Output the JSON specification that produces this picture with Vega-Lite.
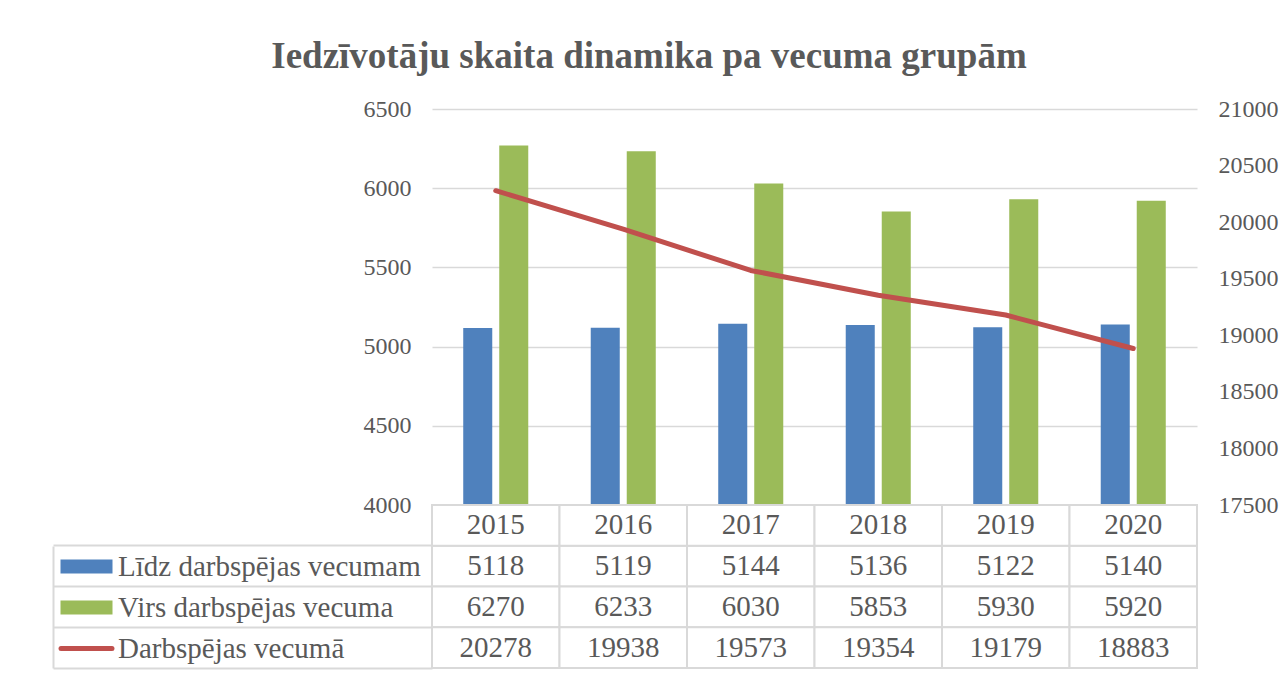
{
  "$schema": "https://vega.github.io/schema/vega-lite/v6.json",
  "background": "white",
  "padding": {"left": 52, "top": 38, "right": 5, "bottom": 5},
  "title": {
    "text": "Iedzīvotāju skaita dinamika pa vecuma grupām",
    "font": "Liberation Serif",
    "fontSize": 37,
    "fontWeight": "bold",
    "color": "#595959",
    "anchor": "middle",
    "offset": 21,
    "dx": -16
  },
  "data": {
    "values": [
      {"year": "2015", "series": "Līdz darbspējas vecumam", "value": 5118},
      {"year": "2016", "series": "Līdz darbspējas vecumam", "value": 5119},
      {"year": "2017", "series": "Līdz darbspējas vecumam", "value": 5144},
      {"year": "2018", "series": "Līdz darbspējas vecumam", "value": 5136},
      {"year": "2019", "series": "Līdz darbspējas vecumam", "value": 5122},
      {"year": "2020", "series": "Līdz darbspējas vecumam", "value": 5140},
      {"year": "2015", "series": "Virs darbspējas vecuma", "value": 6270},
      {"year": "2016", "series": "Virs darbspējas vecuma", "value": 6233},
      {"year": "2017", "series": "Virs darbspējas vecuma", "value": 6030},
      {"year": "2018", "series": "Virs darbspējas vecuma", "value": 5853},
      {"year": "2019", "series": "Virs darbspējas vecuma", "value": 5930},
      {"year": "2020", "series": "Virs darbspējas vecuma", "value": 5920},
      {"year": "2015", "series": "Darbspējas vecumā", "value": 20278},
      {"year": "2016", "series": "Darbspējas vecumā", "value": 19938},
      {"year": "2017", "series": "Darbspējas vecumā", "value": 19573},
      {"year": "2018", "series": "Darbspējas vecumā", "value": 19354},
      {"year": "2019", "series": "Darbspējas vecumā", "value": 19179},
      {"year": "2020", "series": "Darbspējas vecumā", "value": 18883}
    ]
  },
  "spacing": 0,
  "bounds": "flush",
  "vconcat": [
    {
      "width": 765,
      "height": 396,
      "layer": [
        {
          "transform": [{"filter": "datum.series !== 'Darbspējas vecumā'"}],
          "mark": {"type": "bar", "clip": true},
          "encoding": {
            "x": {"field": "year", "type": "ordinal", "axis": null,
                  "scale": {"paddingInner": 0.49, "paddingOuter": 0.245}},
            "xOffset": {"field": "series", "type": "nominal",
                        "scale": {"domain": ["Līdz darbspējas vecumam", "Virs darbspējas vecuma"], "paddingInner": 0.194, "paddingOuter": 0}},
            "y": {"field": "value", "type": "quantitative",
                  "scale": {"domain": [4000, 6500], "zero": false},
                  "axis": {"orient": "left", "values": [4000, 4500, 5000, 5500, 6000, 6500], "format": "d", "title": null,
                           "ticks": false, "domain": false, "grid": true, "gridColor": "#D9D9D9", "gridWidth": 1.5,
                           "labelFont": "Liberation Serif", "labelFontSize": 24, "labelColor": "#595959", "labelPadding": 21}},
            "color": {"field": "series", "type": "nominal",
                      "scale": {"domain": ["Līdz darbspējas vecumam", "Virs darbspējas vecuma", "Darbspējas vecumā"],
                                "range": ["#4F81BD", "#9BBB59", "#C0504D"]},
                      "legend": {"title": null, "orient": "none", "legendX": -360, "legendY": 443,
                                 "symbolType": "M-2,-0.54H2V0.54H-2Z", "symbolSize": 676, "symbolStrokeWidth": 0,
                                 "labelFont": "Liberation Serif", "labelFontSize": 29, "labelColor": "#595959",
                                 "labelLimit": 0, "labelOffset": 17, "rowPadding": 11,
                                 "encode": {"symbols": {"update": {
                                   "shape": {"signal": "datum.value === 'Darbspējas vecumā' ? 'M-1.96,0H1.96' : 'M-2,-0.54H2V0.54H-2Z'"},
                                   "fill": {"signal": "datum.value === 'Darbspējas vecumā' ? 'transparent' : (datum.value === 'Līdz darbspējas vecumam' ? '#4F81BD' : '#9BBB59')"},
                                   "stroke": {"signal": "datum.value === 'Darbspējas vecumā' ? '#C0504D' : 'transparent'"},
                                   "strokeWidth": {"signal": "datum.value === 'Darbspējas vecumā' ? 5 : 0"},
                                   "strokeCap": {"value": "round"},
                                   "opacity": {"value": 1}
                                 }}}}}
          }
        },
        {
          "transform": [{"filter": "datum.series === 'Darbspējas vecumā'"}],
          "mark": {"type": "line", "strokeWidth": 5, "strokeCap": "round", "strokeJoin": "round"},
          "encoding": {
            "x": {"field": "year", "type": "ordinal"},
            "y": {"field": "value", "type": "quantitative",
                  "scale": {"domain": [17500, 21000], "zero": false},
                  "axis": {"orient": "right", "values": [17500, 18000, 18500, 19000, 19500, 20000, 20500, 21000], "format": "d", "title": null,
                           "ticks": false, "domain": false, "grid": false,
                           "labelFont": "Liberation Serif", "labelFontSize": 24, "labelColor": "#595959", "labelPadding": 21}},
            "color": {"field": "series", "type": "nominal"}
          }
        }
      ],
      "resolve": {"scale": {"y": "independent"}}
    },
    {
      "width": 765,
      "height": 163,
      "encoding": {
        "x": {"field": "year", "type": "ordinal", "axis": null, "scale": {"paddingInner": 0, "paddingOuter": 0}},
        "y": {"field": "series", "type": "nominal",
              "scale": {"domain": ["Gads", "Līdz darbspējas vecumam", "Virs darbspējas vecuma", "Darbspējas vecumā"], "paddingInner": 0, "paddingOuter": 0},
              "axis": {"orient": "left", "offset": 379, "labels": false, "title": null,
                       "domain": true, "domainColor": "#D9D9D9", "domainWidth": 2, "domainDash": [0, 41, 300],
                       "ticks": true, "tickSize": -379, "tickColor": "#D9D9D9", "tickWidth": 2, "bandPosition": 1, "grid": false}}
      },
      "layer": [
        {
          "mark": {"type": "rect", "fill": "white", "stroke": "#D9D9D9", "strokeWidth": 2}
        },
        {
          "mark": {"type": "text", "font": "Liberation Serif", "fontSize": 29, "color": "#595959", "align": "center", "baseline": "middle"},
          "encoding": {"text": {"field": "value", "type": "quantitative", "format": "d"}}
        },
        {
          "transform": [{"filter": "datum.series === 'Līdz darbspējas vecumam'"}],
          "mark": {"type": "rect", "fill": "white", "stroke": "#D9D9D9", "strokeWidth": 2},
          "encoding": {"y": {"datum": "Gads"}}
        },
        {
          "transform": [{"filter": "datum.series === 'Līdz darbspējas vecumam'"}],
          "mark": {"type": "text", "font": "Liberation Serif", "fontSize": 29, "color": "#595959", "align": "center", "baseline": "middle"},
          "encoding": {"y": {"datum": "Gads"}, "text": {"field": "year", "type": "ordinal"}}
        }
      ]
    }
  ],
  "config": {
    "view": {"stroke": null},
    "font": "Liberation Serif"
  }
}
